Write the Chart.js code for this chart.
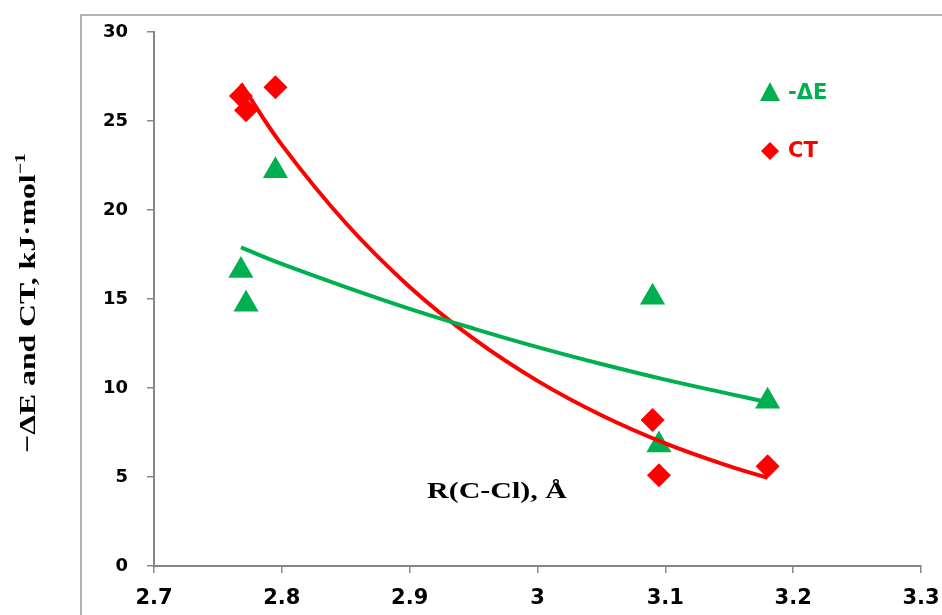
<!DOCTYPE html>
<html>
<head>
<meta charset="utf-8">
<script src="https://cdn.jsdelivr.net/npm/chart.js@4/dist/chart.umd.min.js"></script>
<style>
  html, body { margin: 0; padding: 0; background: #fff; }
  #wrap { width: 942px; height: 615px; position: relative; }
</style>
</head>
<body>
<div id="wrap"><canvas id="chart" width="942" height="615"></canvas></div>
<script>
// data
const rCCl = [2.768, 2.772, 2.795, 3.090, 3.095, 3.180];
const minusDE = [16.6, 14.7, 22.2, 15.1, 6.8, 9.25];
const ctValues = [26.4, 25.6, 26.9, 8.2, 5.1, 5.6];

// trend lines
const trendX = [2.768, 2.8, 2.85, 2.9, 2.95, 3.0, 3.05, 3.1, 3.15, 3.18];
const trendDE = [17.9, 16.97, 15.67, 14.45, 13.34, 12.3, 11.35, 10.47, 9.67, 9.2];
const trendCT = [27.1, 23.66, 19.27, 15.68, 12.77, 10.4, 8.47, 6.89, 5.61, 4.95];

const xTicks = [2.7, 2.8, 2.9, 3.0, 3.1, 3.2, 3.3];
const yTicks = [0, 5, 10, 15, 20, 25, 30];

const GREEN = "#00B050";
const RED = "#FF0000";
const AXIS = "#868686";
const TICK_FONT = "'DejaVu Sans', sans-serif";
const SERIF = "'Liberation Serif', 'Times New Roman', serif";

function pairs(xs, ys) {
    return xs.map((x, i) => ({ x: x, y: ys[i] }));
}

const decor = {
    id: "decor",
    beforeDraw(chart) {
        const ctx = chart.ctx;
        ctx.save();
        ctx.strokeStyle = "#9a9a9a";
        ctx.lineWidth = 1.5;
        ctx.beginPath();
        ctx.moveTo(81, 615);
        ctx.lineTo(81, 15);
        ctx.lineTo(942, 15);
        ctx.stroke();
        ctx.restore();
    },
    afterDraw(chart) {
        const ctx = chart.ctx;
        ctx.save();

        // x axis title (inside the plot)
        ctx.fillStyle = "#000";
        ctx.font = "bold 24px " + SERIF;
        ctx.textAlign = "center";
        ctx.textBaseline = "alphabetic";
        ctx.save();
        ctx.translate(497, 498);
        ctx.scale(1.25, 1);
        ctx.fillText("R(C-Cl), Å", 0, 0);
        ctx.restore();

        // y axis title
        ctx.save();
        ctx.translate(35, 303);
        ctx.rotate(-Math.PI / 2);
        ctx.scale(1.32, 1);
        ctx.font = "bold 24px " + SERIF;
        const main = "\u2212\u0394E and CT, kJ\u00B7mol";
        const sup = "\u22121";
        const wMain = ctx.measureText(main).width;
        ctx.font = "bold 15px " + SERIF;
        const wSup = ctx.measureText(sup).width;
        const start = -(wMain + wSup) / 2;
        ctx.textAlign = "left";
        ctx.font = "bold 24px " + SERIF;
        ctx.fillText(main, start, 0);
        ctx.font = "bold 15px " + SERIF;
        ctx.fillText(sup, start + wMain, -10);
        ctx.restore();

        // legend
        ctx.fillStyle = GREEN;
        ctx.beginPath();
        ctx.moveTo(770, 82);
        ctx.lineTo(780, 101);
        ctx.lineTo(760, 101);
        ctx.closePath();
        ctx.fill();

        ctx.fillStyle = RED;
        ctx.beginPath();
        ctx.moveTo(770, 142);
        ctx.lineTo(779, 151);
        ctx.lineTo(770, 160);
        ctx.lineTo(761, 151);
        ctx.closePath();
        ctx.fill();

        ctx.font = "bold 21px " + TICK_FONT;
        ctx.textAlign = "left";
        ctx.textBaseline = "middle";
        ctx.fillStyle = GREEN;
        ctx.fillText("-\u0394E", 788, 94);
        ctx.fillStyle = RED;
        ctx.fillText("CT", 788, 152);

        ctx.restore();
    }
};

new Chart(document.getElementById("chart"), {
    type: "scatter",
    data: {
        datasets: [
            {
                label: "-\u0394E trend",
                data: pairs(trendX, trendDE),
                showLine: true,
                borderColor: GREEN,
                borderWidth: 4,
                pointRadius: 0,
                tension: 0.4,
                order: 0
            },
            {
                label: "CT trend",
                data: pairs(trendX, trendCT),
                showLine: true,
                borderColor: RED,
                borderWidth: 4,
                pointRadius: 0,
                tension: 0.4,
                order: 0
            },
            {
                label: "-\u0394E",
                data: pairs(rCCl, minusDE),
                pointStyle: "triangle",
                pointRadius: 14.5,
                backgroundColor: GREEN,
                borderColor: GREEN,
                borderWidth: 0,
                order: 1
            },
            {
                label: "CT",
                data: pairs(rCCl, ctValues),
                pointStyle: "rectRot",
                pointRadius: 12,
                backgroundColor: RED,
                borderColor: RED,
                borderWidth: 0,
                order: 1
            }
        ]
    },
    options: {
        responsive: false,
        animation: false,
        events: [],
        layout: { padding: { top: 32, right: 21, left: 0, bottom: 0 } },
        plugins: {
            legend: { display: false },
            tooltip: { enabled: false }
        },
        scales: {
            x: {
                type: "linear",
                min: 2.7,
                max: 3.3,
                afterBuildTicks(scale) {
                    scale.ticks = xTicks.map(v => ({ value: v }));
                },
                afterFit(scale) {
                    scale.height = 49;
                    scale.paddingLeft = 0;
                    scale.paddingRight = 0;
                },
                ticks: {
                    callback: v => String(Number(v.toFixed(1))),
                    font: { family: TICK_FONT, size: 21, weight: "bold" },
                    color: "#000",
                    padding: 13,
                    maxRotation: 0,
                    autoSkip: false
                },
                grid: {
                    drawOnChartArea: false,
                    tickLength: 7,
                    color: AXIS,
                    lineWidth: 1.5
                },
                border: { color: AXIS, width: 2 }
            },
            y: {
                min: 0,
                max: 30,
                afterBuildTicks(scale) {
                    scale.ticks = yTicks.map(v => ({ value: v }));
                },
                afterFit(scale) {
                    scale.width = 154;
                },
                ticks: {
                    font: { family: TICK_FONT, size: 18, weight: "bold" },
                    color: "#000",
                    padding: 19,
                    autoSkip: false
                },
                grid: {
                    drawOnChartArea: false,
                    tickLength: 7,
                    color: AXIS,
                    lineWidth: 1.5
                },
                border: { color: AXIS, width: 2 }
            }
        }
    },
    plugins: [decor]
});
</script>
</body>
</html>
